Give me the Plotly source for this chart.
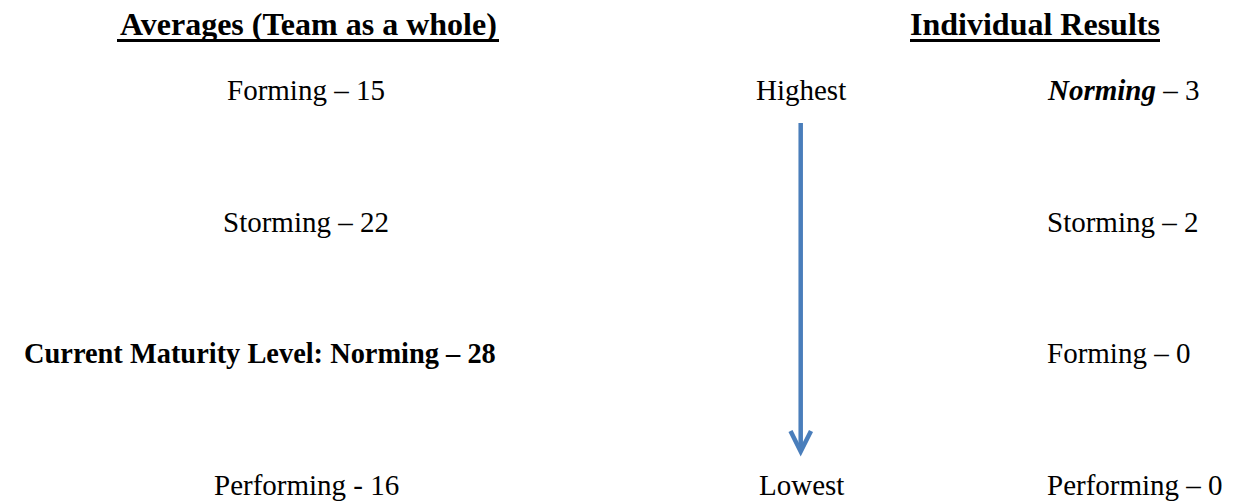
import plotly.graph_objects as go

# ---- data ----
headers = ["Averages (Team as a whole)", "Individual Results"]
avg_stages = ["Forming", "Storming", "Norming", "Performing"]
avg_scores = [15, 22, 28, 16]
avg_seps = [" – ", " – ", " – ", " - "]
current_prefix = "Current Maturity Level: "
current_index = 2
scale_labels = ["Highest", "Lowest"]
ind_stages = ["Norming", "Storming", "Forming", "Performing"]
ind_counts = [3, 2, 0, 0]

# ---- layout constants ----
W, H = 1233, 504
FONT = "Times New Roman, Liberation Serif, serif"
BLUE = "#4a7ebb"
row_y = [90, 222, 353, 485]
left_cx = 306
mid_cx = 801
right_lx = 1045
header_y = 24
header_x = [308, 1035]
header_size = 32
body_size = 29
current_size = 28.4

fig = go.Figure(go.Scatter(x=[], y=[], mode="markers", showlegend=False))

ann = []
# headers
for hx, txt in zip(header_x, headers):
    ann.append(dict(x=hx, y=header_y, text=f"<b>{txt}</b>", xanchor="center",
                    yanchor="middle", showarrow=False,
                    font=dict(family=FONT, size=header_size, color="black")))

# left column (averages)
for i, (stg, sc, sep) in enumerate(zip(avg_stages, avg_scores, avg_seps)):
    if i == current_index:
        txt = f"<b>{current_prefix}{stg}{sep}{sc}</b>"
        ann.append(dict(x=498, y=row_y[i], text=txt, xanchor="right", yanchor="middle",
                        showarrow=False, font=dict(family=FONT, size=current_size, color="black")))
    else:
        txt = f"{stg}{sep}{sc}"
        ann.append(dict(x=left_cx, y=row_y[i], text=txt, xanchor="center", yanchor="middle",
                        showarrow=False, font=dict(family=FONT, size=body_size, color="black")))

# middle scale labels
for lab, ry in zip(scale_labels, [row_y[0], row_y[-1]]):
    ann.append(dict(x=mid_cx, y=ry, text=lab, xanchor="center", yanchor="middle",
                    showarrow=False, font=dict(family=FONT, size=body_size, color="black")))

# right column (individual)
best = max(range(len(ind_counts)), key=lambda k: ind_counts[k])
for i, (stg, c) in enumerate(zip(ind_stages, ind_counts)):
    name = f"<b><i>{stg}</i></b>" if i == best else stg
    ann.append(dict(x=right_lx, y=row_y[i], text=f"{name} – {c}", xanchor="left", yanchor="middle",
                    showarrow=False, font=dict(family=FONT, size=body_size, color="black")))

shapes = []
# header underlines
shapes.append(dict(type="line", x0=117, x1=499, y0=40.5, y1=40.5, xref="x", yref="y",
                   line=dict(color="black", width=3)))
shapes.append(dict(type="line", x0=910, x1=1160, y0=40.5, y1=40.5, xref="x", yref="y",
                   line=dict(color="black", width=3)))
# arrow
shapes.append(dict(type="line", x0=800.7, x1=800.7, y0=123, y1=451, xref="x", yref="y",
                   line=dict(color=BLUE, width=4.5)))
shapes.append(dict(type="path", path="M 790.5 431 L 800.7 451.5 L 811 431", xref="x", yref="y",
                   line=dict(color=BLUE, width=4.5)))

fig.update_layout(
    width=W, height=H, margin=dict(l=0, r=0, t=0, b=0),
    paper_bgcolor="white", plot_bgcolor="white",
    xaxis=dict(range=[0, W], visible=False, fixedrange=True),
    yaxis=dict(range=[H, 0], visible=False, fixedrange=True),
    annotations=ann, shapes=shapes, showlegend=False,
)
fig.write_html("out.html", config={"displayModeBar": False},
               post_script="document.body.style.margin='0px';document.body.style.overflow='hidden';")
